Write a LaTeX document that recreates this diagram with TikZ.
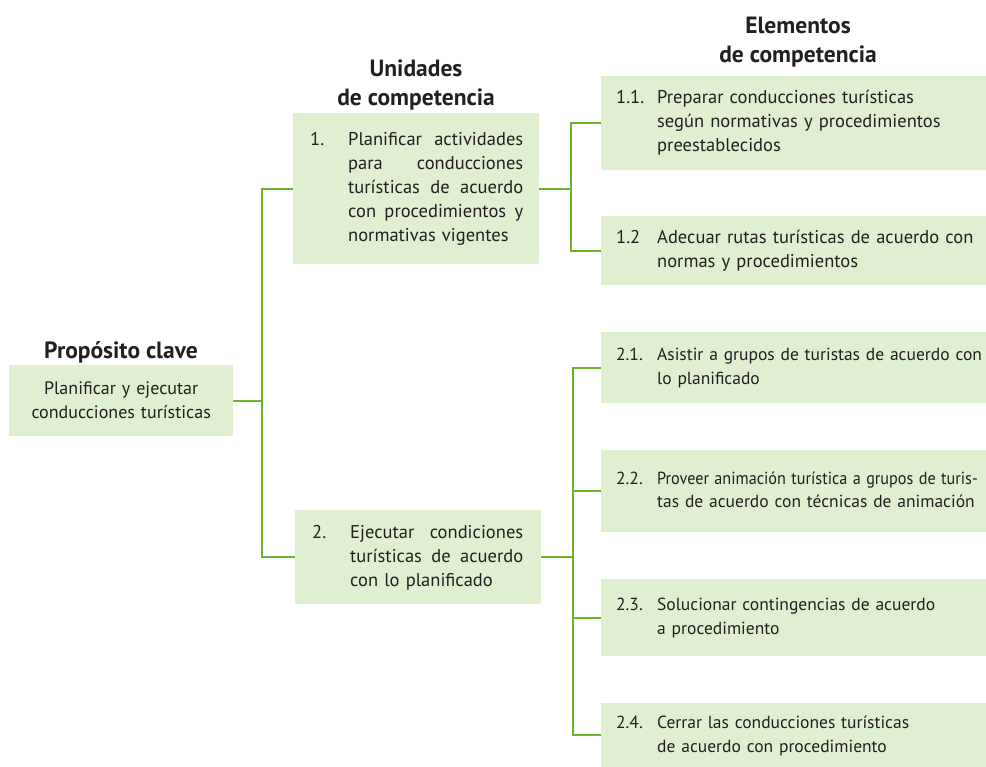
\documentclass[tikz,border=0pt]{standalone}
\usepackage{fontspec}
\usepackage{graphicx}
\setmainfont{PT Sans}
\definecolor{boxgreen}{HTML}{DFEFD0}
\definecolor{linegreen}{HTML}{6AB42A}
\definecolor{ink}{HTML}{231F20}
\newcommand{\itm}[3]{\makebox[#1][l]{#2}\begin{tabular}[t]{@{}l@{}}#3\end{tabular}}
\newcommand{\jl}[2][175pt]{\hbox to #1{\spaceskip=0.25em plus 1fil\relax #2}}
\begin{document}
\begin{tikzpicture}[x=1pt,y=-1pt,
  box/.style={fill=boxgreen, draw=none, anchor=north west, inner ysep=0pt, text=ink,
    align=left, font=\fontsize{18.5}{24}\selectfont},
  ebox/.style={box, inner xsep=15pt, text width=355pt},
  esmall/.style={font=\fontsize{17.5}{24}\selectfont},
  ubox/.style={box, inner xsep=17pt, text width=212pt},
  hdr/.style={font=\bfseries\fontsize{23.5}{29}\selectfont, align=center, text=ink, inner sep=0pt},
  conn/.style={draw=linegreen, line width=2pt}]
\useasboundingbox (0,0) rectangle (986,767);

% headers
\node[hdr] (hP) at (121,352) {Propósito clave};
\node[hdr] (hU) at (416,85) {Unidades\\de competencia};
\node[hdr] (hE) at (798,42) {Elementos\\de competencia};

% key purpose
\node[box, align=center, inner xsep=0pt, text width=224pt, minimum height=71pt,
  font=\fontsize{18}{24}\selectfont] (P) at (9,365)
  {Planificar y ejecutar\\conducciones turísticas};

% units
\node[ubox, minimum height=151pt] (U1) at (293,113)
  {\itm{38pt}{1.}{\jl{Planificar actividades}\\\jl{para conducciones}\\\jl{turísticas de acuerdo}\\\jl{con procedimientos y}\\normativas vigentes}};
\node[ubox, minimum height=94pt] (U2) at (295,510)
  {\itm{38pt}{2.}{\jl[173pt]{Ejecutar condiciones}\\\jl[173pt]{turísticas de acuerdo}\\con lo planificado}};

% elements
\node[ebox, minimum height=94pt] (E11) at (601,76)
  {\itm{41pt}{1.1.}{Preparar conducciones turísticas\\según normativas y procedimientos\\preestablecidos}};
\node[ebox, minimum height=69pt] (E12) at (601,216)
  {\itm{41pt}{1.2}{Adecuar rutas turísticas de acuerdo con\\normas y procedimientos}};
\node[ebox, esmall, minimum height=71pt] (E21) at (601,332)
  {\itm{41pt}{2.1.}{Asistir a grupos de turistas de acuerdo con\\lo planificado}};
\node[ebox, esmall, minimum height=82pt] (E22) at (601,450)
  {\itm{41pt}{2.2.}{\scalebox{0.925}[1]{Proveer animación turística a grupos de turis-}\\tas de acuerdo con técnicas de animación}};
\node[ebox, esmall, minimum height=77pt] (E23) at (601,579)
  {\itm{41pt}{2.3.}{Solucionar contingencias de acuerdo\\a procedimiento}};
\node[ebox, esmall, minimum height=64pt] (E24) at (601,703)
  {\itm{41pt}{2.4.}{Cerrar las conducciones turísticas\\de acuerdo con procedimiento}};

% connectors
\draw[conn] (P.east) -- ++(29,0) coordinate (t0);
\draw[conn] (t0) |- (U1.west);
\draw[conn] (t0) |- (U2.west);
\draw[conn] (U1.east) -- ++(32,0) coordinate (t1);
\draw[conn] (t1) |- (E11.west);
\draw[conn] (t1) |- (E12.west);
\draw[conn] (U2.east) -- ++(32,0) coordinate (t2);
\draw[conn] (t2) |- (E21.west);
\draw[conn] (t2) |- (E22.west);
\draw[conn] (t2) |- (E23.west);
\draw[conn] (t2) |- (E24.west);
\end{tikzpicture}
\end{document}
